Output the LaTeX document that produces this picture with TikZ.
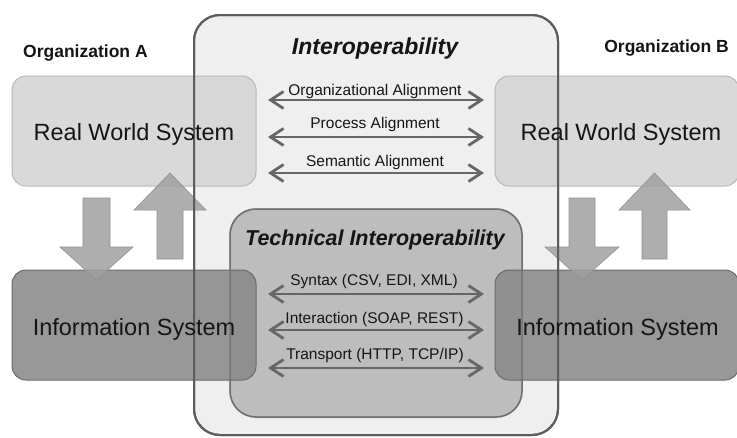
\documentclass[tikz,border=0pt]{standalone}
\usepackage{fontspec}
\setmainfont{Liberation Sans}
\usetikzlibrary{arrows.meta}
\definecolor{outerfill}{HTML}{EFEFEF}
\definecolor{outerline}{HTML}{5C5C5C}
\definecolor{techfill}{HTML}{BDBDBD}
\definecolor{techline}{HTML}{6F6F6F}
\definecolor{rwsfill}{HTML}{D3D3D3}
\definecolor{rwsline}{HTML}{B8B8B8}
\definecolor{isfill}{HTML}{878787}
\definecolor{isline}{HTML}{6A6A6A}
\definecolor{blockfill}{HTML}{A0A0A0}
\definecolor{blockline}{HTML}{929292}
\definecolor{dblcol}{HTML}{666666}
\definecolor{textcol}{HTML}{151515}
\begin{document}
\begin{tikzpicture}[x=1pt,y=-1pt,
  outerbox/.style={rectangle, rounded corners=26pt, fill=outerfill, draw=outerline, line width=2pt, minimum width=364pt, minimum height=420pt, inner sep=0pt},
  techbox/.style={rectangle, rounded corners=26pt, fill=techfill, draw=techline, line width=1.5pt, minimum width=292pt, minimum height=208pt, inner sep=0pt},
  sysbox/.style={rectangle, rounded corners=14pt, minimum width=244pt, minimum height=110pt, inner sep=0pt, fill opacity=0.85, line width=1pt},
  rws/.style={sysbox, fill=rwsfill, draw=rwsline},
  infs/.style={sysbox, fill=isfill, draw=isline},
  blockarrow/.style={fill=blockfill, draw=blockline, line width=0.6pt, fill opacity=0.85},
  bigtext/.style={font=\fontsize{23.5}{28}\selectfont, text=textcol, anchor=base, inner sep=0pt},
  titletext/.style={font=\fontsize{23}{28}\selectfont\bfseries\itshape, text=textcol, anchor=base, inner sep=0pt},
  orgtext/.style={font=\fontsize{17.5}{21}\selectfont\bfseries, text=textcol, inner sep=0pt},
  lbl/.style={font=\fontsize{15.5}{18}\selectfont, text=textcol, anchor=base, inner sep=0pt},
  dbl/.style={draw=dblcol, line width=2.8pt, {Straight Barb[length=13pt,width=17pt]}-{Straight Barb[length=13pt,width=17pt]}}
]
\useasboundingbox (0,0) rectangle (737,437);
\fill[white] (0,0) rectangle (737,437);

% interoperability frames
\node[outerbox] (outer) at (376,225) {};
\node[techbox] (tech) at (376,313) {};

% system boxes
\node[rws] (rwsA) at (134,131) {};
\node[rws] (rwsB) at (617,131) {};
\node[infs] (isA) at (134,325) {};
\node[infs] (isB) at (617,325) {};

% block arrows
\draw[blockarrow] (83,198) -- (110,198) -- (110,247) -- (133,247) -- (96.5,280) -- (60,247) -- (83,247) -- cycle;
\draw[blockarrow] (157,259) -- (183,259) -- (183,210) -- (206,210) -- (170,173) -- (134,210) -- (157,210) -- cycle;
\draw[blockarrow] (569,198) -- (595,198) -- (595,247) -- (619,247) -- (582,280) -- (545,247) -- (569,247) -- cycle;
\draw[blockarrow] (642,259) -- (667,259) -- (667,210) -- (690,210) -- (654.5,173) -- (619,210) -- (642,210) -- cycle;

% borders on top
\node[outerbox, fill=none] (outerborder) at (376,225) {};
\node[techbox, fill=none, draw opacity=0.5] (techborder) at (376,313) {};

% texts
\node[bigtext] (rwsAt) at (134,140) {Real World System};
\node[bigtext] (rwsBt) at (621,140) {Real World System};
\node[bigtext] (isAt) at (134,335) {Information System};
\node[bigtext] (isBt) at (617.5,335) {Information System};
\node[orgtext, anchor=base west] (orgA) at (23,57.5) {Organization A};
\node[orgtext, anchor=base east] (orgB) at (729,52) {Organization B};
\node[titletext] (title) at (375,54) {Interoperability};
\node[titletext, font=\fontsize{21.5}{26}\selectfont\bfseries\itshape] (techtitle) at (375,245) {Technical Interoperability};

% alignment arrows
\coordinate (a1L) at (268,100); \coordinate (a1R) at (484,100);
\coordinate (a2L) at (268,137); \coordinate (a2R) at (484,137);
\coordinate (a3L) at (268,173); \coordinate (a3R) at (484,173);
\coordinate (b1L) at (268,294); \coordinate (b1R) at (484,294);
\coordinate (b2L) at (268,330); \coordinate (b2R) at (484,330);
\coordinate (b3L) at (268,368); \coordinate (b3R) at (484,368);
\draw[dbl] (a1L) -- (a1R);
\draw[dbl] (a2L) -- (a2R);
\draw[dbl] (a3L) -- (a3R);
\draw[dbl] (b1L) -- (b1R);
\draw[dbl] (b2L) -- (b2R);
\draw[dbl] (b3L) -- (b3R);
\node[lbl] (l1) at (375,95) {Organizational Alignment};
\node[lbl] (l2) at (375,128) {Process Alignment};
\node[lbl] (l3) at (375,166) {Semantic Alignment};
\node[lbl] (l4) at (374,285) {Syntax (CSV, EDI, XML)};
\node[lbl] (l5) at (374.5,323) {Interaction (SOAP, REST)};
\node[lbl] (l6) at (375,359) {Transport (HTTP, TCP/IP)};
\end{tikzpicture}
\end{document}
